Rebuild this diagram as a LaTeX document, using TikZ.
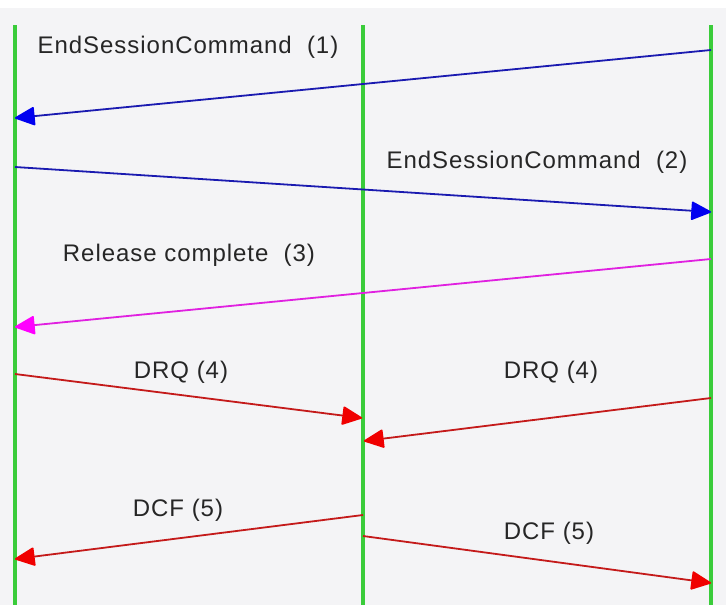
\documentclass[tikz,border=0pt]{standalone}
\usepackage{fontspec}
\setmainfont{Liberation Sans}[LetterSpace=4]
\usetikzlibrary{arrows.meta}
\definecolor{bgray}{HTML}{F4F4F6}
\definecolor{lifegreen}{HTML}{3ACC3A}
\definecolor{msgblue}{HTML}{1A1AB0}
\definecolor{tipblue}{HTML}{0000F0}
\definecolor{msgmag}{HTML}{E020E0}
\definecolor{tipmag}{HTML}{FF00FF}
\definecolor{msgred}{HTML}{C41A1A}
\definecolor{tipred}{HTML}{F00000}
\tikzset{
  lifeline/.style={draw=lifegreen, line width=3.5pt},
  msg/.style={line width=1.8pt},
  tip/.style={-{Triangle[length=21pt, width=19pt, round, fill=#1, color=#1]}},
  bluemsg/.style={msg, draw=msgblue, tip=tipblue},
  magmsg/.style={msg, draw=msgmag, tip=tipmag},
  redmsg/.style={msg, draw=msgred, tip=tipred},
  lbl/.style={inner sep=0pt, font=\fontsize{24}{28}\selectfont, text=black!85}
}
\begin{document}
\begin{tikzpicture}[x=1pt, y=-1pt]
  % canvas
  \fill[white] (0,0) rectangle (726,605);
  \fill[bgray] (0,8) rectangle (726,605);
  \useasboundingbox (0,0) rectangle (726,605);

  % lifelines
  \coordinate (aTop) at (15,25);   \coordinate (aBot) at (15,605);
  \coordinate (bTop) at (363,25);  \coordinate (bBot) at (363,605);
  \coordinate (cTop) at (711,25);  \coordinate (cBot) at (711,605);
  \draw[lifeline] (aTop) -- (aBot);
  \draw[lifeline] (bTop) -- (bBot);
  \draw[lifeline] (cTop) -- (cBot);

  % message end points
  \coordinate (m1s) at (711,50);   \coordinate (m1e) at (15,118);
  \coordinate (m2s) at (15,167);   \coordinate (m2e) at (711,212);
  \coordinate (m3s) at (711,259);  \coordinate (m3e) at (15,327);
  \coordinate (m4s) at (15,374);   \coordinate (m4e) at (362,418);
  \coordinate (m5s) at (711,398);  \coordinate (m5e) at (364,441);
  \coordinate (m6s) at (363,515);  \coordinate (m6e) at (15,559);
  \coordinate (m7s) at (363,536);  \coordinate (m7e) at (711,583);

  % messages
  \draw[bluemsg] (m1s) -- (m1e);
  \draw[bluemsg] (m2s) -- (m2e);
  \draw[magmsg]  (m3s) -- (m3e);
  \draw[redmsg]  (m4s) -- (m4e);
  \draw[redmsg]  (m5s) -- (m5e);
  \draw[redmsg]  (m6s) -- (m6e);
  \draw[redmsg]  (m7s) -- (m7e);

  % labels
  \node[lbl] (l1) at (188,47)  {EndSessionCommand\ \ (1)};
  \node[lbl] (l2) at (537,162) {EndSessionCommand\ \ (2)};
  \node[lbl] (l3) at (189,255) {Release complete\ \ (3)};
  \node[lbl] (l4) at (181,372) {DRQ (4)};
  \node[lbl] (l5) at (551,372) {DRQ (4)};
  \node[lbl] (l6) at (178,510) {DCF (5)};
  \node[lbl] (l7) at (549,533) {DCF (5)};
\end{tikzpicture}
\end{document}
